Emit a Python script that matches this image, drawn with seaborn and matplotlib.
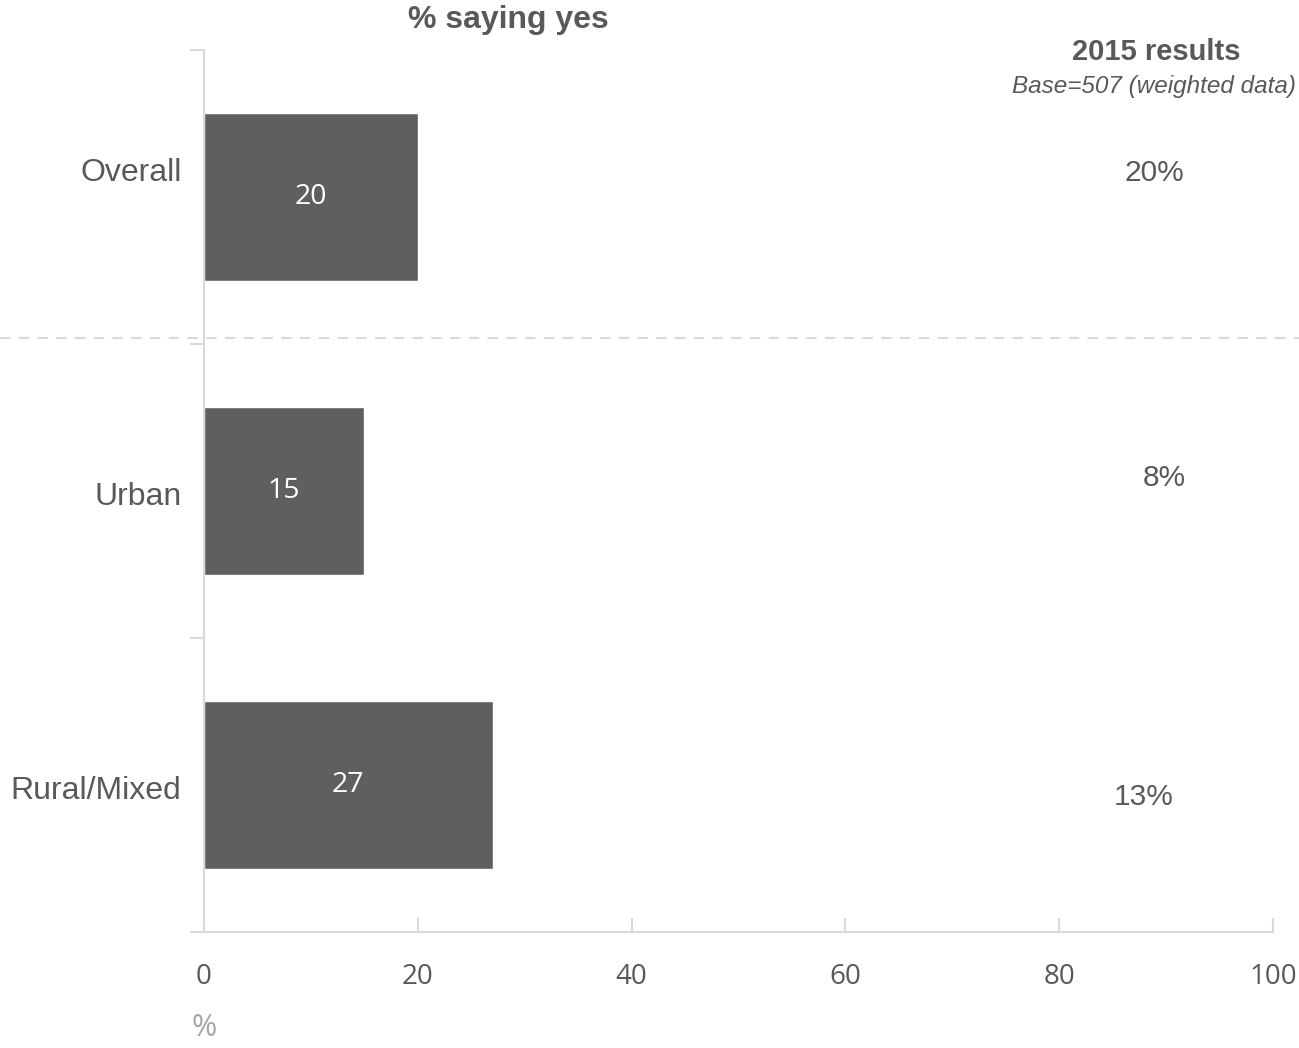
import matplotlib
matplotlib.use("Agg")
import matplotlib.pyplot as plt
import matplotlib.transforms as mtransforms
from matplotlib.lines import Line2D
import seaborn as sns
import pandas as pd

# data
categories = ["Overall", "Urban", "Rural/Mixed"]
values_2016 = [20, 15, 27]
results_2015 = ["20%", "8%", "13%"]
x_ticks = [0, 20, 40, 60, 80, 100]

GREY_TEXT = "#595959"
BAR = "#5f5f5f"
SPINE = "#d9d9d9"

sns.set_theme(style="white")
plt.rcParams["font.family"] = ["Liberation Sans", "DejaVu Sans"]

df = pd.DataFrame({"group": categories, "pct": values_2016})

fig = plt.figure(figsize=(12.99, 10.48), dpi=100)
ax = fig.add_axes([0.157, 0.1107, 0.823, 0.8416])

sns.barplot(data=df, x="pct", y="group", orient="h", color=BAR,
            saturation=1, width=0.57, ax=ax)

ax.set_xlim(0, 100)
ax.set_ylim(2.5, -0.5)
ax.set_xlabel("")
ax.set_ylabel("")

# spines
for side in ["top", "right"]:
    ax.spines[side].set_visible(False)
for side in ["left", "bottom"]:
    ax.spines[side].set_color(SPINE)
    ax.spines[side].set_linewidth(1.5)

# x ticks: pointing up into the plot
ax.set_xticks(x_ticks)
ax.set_xticklabels([str(t) for t in x_ticks], fontfamily="Open Sans",
                   fontsize=20, color=GREY_TEXT)
ax.tick_params(axis="x", bottom=True, direction="in", length=10, width=1.5,
               color=SPINE, pad=22)

# y ticks at the category boundaries, labels placed separately
ax.set_yticks([-0.5, 0.5, 1.5, 2.5])
ax.set_yticklabels([])
ax.tick_params(axis="y", left=True, direction="out", length=10, width=1.5,
               color=SPINE)

# category labels
label_y = [-0.082, 1.02, 2.02]
trans_lbl = mtransforms.blended_transform_factory(ax.transAxes, ax.transData)
for name, y in zip(categories, label_y):
    ax.text(-0.021, y, name, transform=trans_lbl, ha="right", va="center",
            fontsize=23, color=GREY_TEXT)

# value labels inside bars
ax.bar_label(ax.containers[0], labels=[str(v) for v in values_2016],
             label_type="center", color="white", fontsize=20.5,
             fontfamily="Open Sans")

# 2015 column
col_x = [0.889, 0.898, 0.879]
col_y = [-0.082, 0.956, 2.041]
for txt, x, y in zip(results_2015, col_x, col_y):
    ax.text(x, y, txt, transform=trans_lbl, ha="center", va="center",
            fontsize=21.5, color=GREY_TEXT)

fig.text(0.890, 0.950, "2015 results", ha="center", va="center",
         fontsize=21, fontweight="bold", color=GREY_TEXT)
fig.text(0.998, 0.917, "Base=507 (weighted data)", ha="right", va="center",
         fontsize=17.5, fontstyle="italic", color=GREY_TEXT)

# title
fig.text(0.391, 0.981, "% saying yes", ha="center", va="center",
         fontsize=23, fontweight="bold", color=GREY_TEXT)

# dashed separator across the whole figure
fig.add_artist(Line2D([0, 1], [0.6775, 0.6775], transform=fig.transFigure,
                      color=SPINE, linestyle=(0, (5, 4)), linewidth=1.5))

# unit note
fig.text(0.157, 0.019, "%", ha="center", va="center",
         fontfamily="Open Sans", fontsize=22, color="#a6a6a6")

fig.savefig("out.png", dpi=100)
